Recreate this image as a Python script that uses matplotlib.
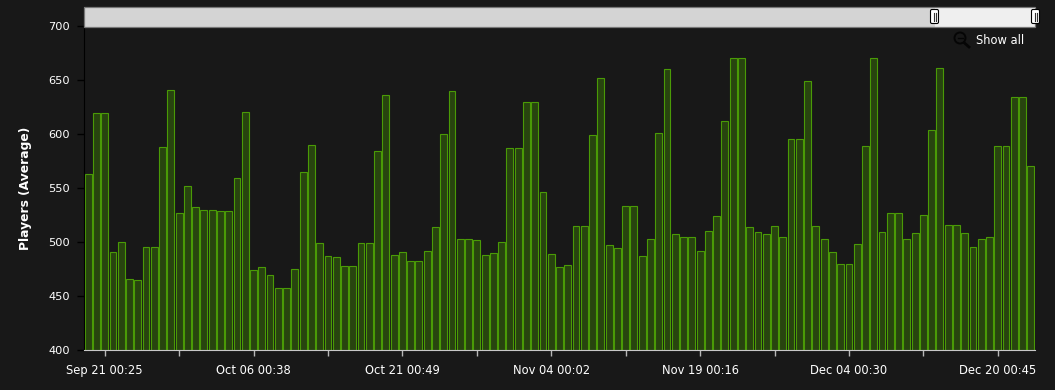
import matplotlib
matplotlib.use('Agg')
import matplotlib.pyplot as plt
from matplotlib.patches import Circle, FancyBboxPatch, Rectangle
from matplotlib.lines import Line2D

players = [563, 619, 619, 491, 500, 466, 465, 495, 495, 588,
           641, 527, 552, 532, 530, 530, 529, 529, 559, 620,
           474, 477, 469, 457, 457, 475, 565, 590, 499, 487,
           486, 478, 478, 499, 499, 584, 636, 488, 491,
           482, 482, 492, 514, 600, 640, 503, 503, 502, 488,
           490, 500, 587, 587, 630, 630, 546, 489, 477, 479,
           515, 515, 599, 652, 497, 494, 533, 533, 487, 503,
           601, 660, 507, 505, 505, 492, 510, 524,
           612, 670, 670, 514, 509, 507, 515, 505, 595, 595,
           649, 515, 503, 491, 480, 480, 498, 589, 670, 509,
           527, 527, 503, 508, 525, 604, 661, 516, 516, 508,
           495, 503, 505, 589, 589, 634, 634, 570]

date_ticks = [2, 20, 38, 56, 74, 92, 110]
date_labels = ['Sep 21 00:25', 'Oct 06 00:38', 'Oct 21 00:49', 'Nov 04 00:02',
               'Nov 19 00:16', 'Dec 04 00:30', 'Dec 20 00:45']
minor_ticks = [11, 29, 47, 65, 83, 101]
y_ticks = [400, 450, 500, 550, 600, 650, 700]

W, H = 1055, 390
bg = '#181818'

fig = plt.figure(figsize=(W / 100, H / 100), dpi=100, facecolor=bg)


# pixel box (from the top left) to figure fractions
def box(x0, y0, x1, y1):
    return [x0 / W, 1 - y1 / H, (x1 - x0) / W, (y1 - y0) / H]


ax = fig.add_axes(box(84, 26, 1035, 350))
ax.set_facecolor(bg)
ax.bar(range(len(players)), players, width=0.83, color='#28440f',
       edgecolor='#4a9a06', linewidth=0.8)

ax.set_xlim(-0.5, len(players) - 0.5)
ax.set_ylim(400, 700)
ax.set_yticks(y_ticks)
ax.set_xticks(date_ticks)
ax.set_xticklabels(date_labels)
ax.set_xticks(minor_ticks, minor=True)

ax.tick_params(axis='y', colors='white', labelsize=8.2, length=5, width=1,
               color='#000000', pad=5)
ax.tick_params(axis='x', which='both', length=4, width=1, color='#b8b8b8')
ax.tick_params(axis='x', which='major', labelcolor='white', labelsize=8.3, pad=6)

for s in ['top', 'right']:
    ax.spines[s].set_visible(False)
ax.spines['left'].set_color('#000000')
ax.spines['bottom'].set_color('#c8c8c8')

fig.text(26 / W, 1 - 188 / H, 'Players (Average)', rotation=90, color='white',
         fontsize=8.8, fontweight='bold', ha='center', va='center')

# scrollbar above the plot
scroll = fig.add_axes([0, 0, 1, 1], facecolor='none')
scroll.set_xlim(0, W)
scroll.set_ylim(H, 0)
scroll.axis('off')
scroll.add_patch(Rectangle((83.5, 6.5), 851, 20, fc='#d4d4d4', ec='none'))
scroll.add_patch(Rectangle((934.5, 6.5), 100.5, 20, fc='#efefef', ec='none'))
scroll.add_patch(Rectangle((83.5, 6.5), 951.5, 20, fc='none', ec='#777777', lw=0.9))
for hx in [934.5, 1035.5]:
    scroll.add_patch(FancyBboxPatch((hx - 4, 9.5), 8, 14, boxstyle='round,pad=0,rounding_size=1.5',
                                    fc='white', ec='black', lw=0.8))
    scroll.add_line(Line2D([hx - 1, hx - 1], [12.5, 20.5], color='#333333', lw=0.8))
    scroll.add_line(Line2D([hx + 1, hx + 1], [12.5, 20.5], color='#333333', lw=0.8))

# zoom out icon + label
scroll.add_patch(Circle((960, 38), 5.5, fc='none', ec='#050505', lw=1.4))
scroll.add_line(Line2D([957.5, 962.5], [38, 38], color='#050505', lw=1))
scroll.add_line(Line2D([964.5, 969], [43, 47], color='#050505', lw=2))
scroll.text(976, 41, 'Show all', color='white', fontsize=8.3, ha='left', va='center')

fig.savefig('out.png', dpi=100, facecolor=bg)
